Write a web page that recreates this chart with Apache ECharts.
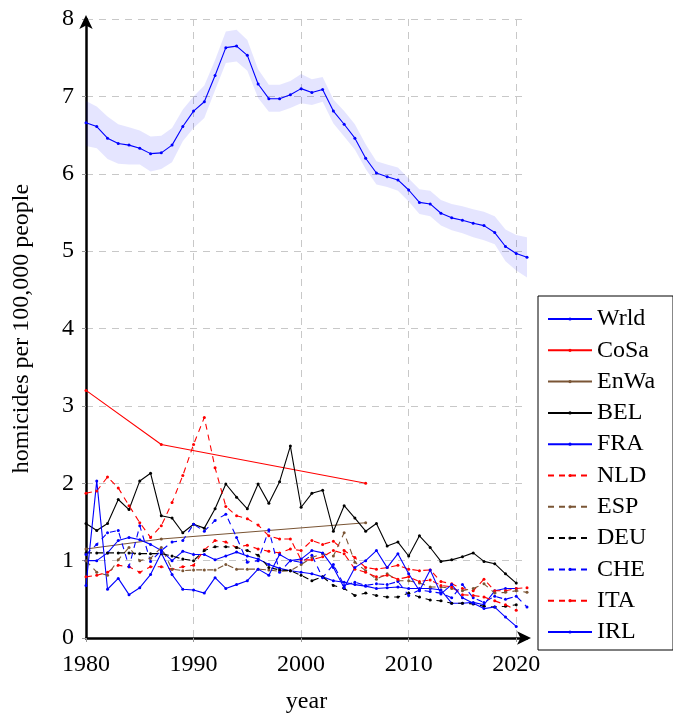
<!DOCTYPE html>
<html>
<head>
<meta charset="utf-8">
<script src="https://cdn.jsdelivr.net/npm/echarts@6/dist/echarts.min.js"></script>
<style>
html,body{margin:0;padding:0;background:#fff;}
#chart{width:673px;height:719px;}
</style>
</head>
<body>
<div id="chart"></div>
<script>
const years = [1980,1981,1982,1983,1984,1985,1986,1987,1988,1989,1990,1991,1992,1993,1994,1995,1996,1997,1998,1999,2000,2001,2002,2003,2004,2005,2006,2007,2008,2009,2010,2011,2012,2013,2014,2015,2016,2017,2018,2019,2020,2021];
const xTicks = [1980,1990,2000,2010,2020];
const yTicks = [0,1,2,3,4,5,6,7,8];

const wrld = [6.66,6.61,6.46,6.39,6.37,6.33,6.26,6.27,6.37,6.61,6.81,6.93,7.27,7.63,7.65,7.53,7.16,6.97,6.97,7.02,7.10,7.05,7.09,6.81,6.64,6.46,6.20,6.01,5.96,5.92,5.79,5.63,5.61,5.49,5.43,5.40,5.36,5.33,5.24,5.06,4.97,4.92];
const wrldUpper = [6.94,6.87,6.74,6.64,6.60,6.56,6.48,6.49,6.59,6.83,7.00,7.14,7.47,7.84,7.86,7.73,7.35,7.15,7.15,7.20,7.29,7.22,7.25,6.96,6.81,6.64,6.38,6.16,6.12,6.08,5.94,5.80,5.78,5.66,5.61,5.58,5.54,5.51,5.45,5.28,5.21,5.18];
const wrldLower = [6.36,6.33,6.19,6.13,6.12,6.12,6.03,6.06,6.15,6.42,6.59,6.72,7.08,7.43,7.45,7.33,6.98,6.80,6.80,6.85,6.91,6.89,6.93,6.65,6.48,6.31,6.06,5.86,5.83,5.78,5.64,5.48,5.45,5.33,5.27,5.23,5.18,5.14,5.09,4.87,4.75,4.66];

const cosaYears = [1980,1987,2006];
const cosa = [3.20,2.50,2.00];
const enwaYears = [1980,1987,2006];
const enwa = [1.15,1.28,1.49];

const bel = [1.48,1.39,1.48,1.79,1.66,2.03,2.13,1.58,1.55,1.36,1.47,1.42,1.67,1.99,1.82,1.67,1.99,1.74,2.02,2.48,1.69,1.87,1.91,1.38,1.71,1.55,1.38,1.48,1.19,1.24,1.06,1.32,1.17,0.99,1.01,1.05,1.10,0.99,0.96,0.83,0.71,null];
const fra = [1.00,1.00,1.10,1.26,1.30,1.27,1.21,1.13,1.00,1.12,1.08,1.08,1.01,1.06,1.11,1.06,1.02,0.95,0.90,0.87,0.85,0.83,0.79,0.74,0.72,0.69,0.67,0.64,0.65,0.66,0.64,0.64,0.64,0.62,0.45,0.45,0.46,0.43,0.61,0.64,0.64,null];
const nld = [0.79,0.81,0.85,0.94,0.92,0.85,0.92,0.92,0.89,0.92,0.94,1.14,1.26,1.24,1.17,1.20,1.15,1.12,1.10,1.15,1.13,1.26,1.21,1.25,1.13,1.04,0.91,0.89,0.91,0.94,0.89,0.87,0.88,0.73,0.70,0.64,0.61,0.76,0.61,0.61,0.64,0.65];
const esp = [1.00,0.85,0.81,1.01,1.17,1.00,1.03,1.17,0.89,0.87,0.88,0.88,0.88,0.95,0.89,0.89,0.89,0.88,0.86,0.87,0.95,1.04,1.09,1.06,1.36,0.98,0.87,0.76,0.83,0.74,0.74,0.71,0.66,0.66,0.64,0.61,0.64,0.70,0.58,0.59,0.61,0.59];
const deu = [1.10,1.10,1.10,1.10,1.10,1.09,1.09,1.09,1.06,1.02,1.00,1.13,1.18,1.18,1.17,1.13,1.07,0.91,0.88,0.87,0.81,0.74,0.79,0.68,0.64,0.55,0.58,0.55,0.53,0.53,0.58,0.53,0.49,0.48,0.45,0.45,0.44,0.41,0.40,0.41,0.43,null];
const che = [1.08,1.21,1.36,1.39,0.92,1.45,0.99,1.13,1.24,1.26,1.47,1.38,1.52,1.60,1.30,0.98,1.00,1.40,0.85,1.00,0.98,1.07,0.78,0.95,0.68,0.72,0.68,0.70,0.69,0.73,0.55,0.62,0.60,0.58,0.52,0.69,0.52,0.46,0.54,0.50,0.54,0.40];
const ita = [1.87,1.90,2.08,1.94,1.71,1.49,1.30,1.45,1.75,2.10,2.50,2.85,2.20,1.70,1.58,1.54,1.46,1.32,1.28,1.28,1.01,1.01,1.05,1.13,1.09,0.89,0.85,0.79,0.81,0.76,0.79,0.73,0.75,0.68,0.66,0.56,0.55,0.53,0.48,0.43,0.36,null];
const irl = [0.68,2.03,0.63,0.77,0.56,0.65,0.82,1.10,0.82,0.63,0.62,0.58,0.78,0.64,0.69,0.74,0.89,0.81,1.08,1.00,1.02,1.13,1.10,0.91,0.65,0.91,1.00,1.13,0.91,1.09,0.83,0.61,0.88,0.57,0.69,0.52,0.45,0.38,0.40,0.27,0.15,null];

const BLUE = '#0000ff', RED = '#ff0000', BLACK = '#000000', BROWN = '#7a5535';
const FONT = '"Liberation Serif", "DejaVu Serif", serif';

function pairs(xs, ys){ return xs.map((x,i)=>[x, ys[i]]); }

function lineSeries(name, xs, ys, color, dashed){
  return {
    name: name, type: 'line', data: pairs(xs, ys),
    symbol: 'circle', symbolSize: 3, showSymbol: true, connectNulls: false,
    itemStyle: {color: color},
    lineStyle: {color: color, width: 1.1, type: dashed ? [6,5] : 'solid'},
    emphasis: {disabled: true}, animation: false, z: 3
  };
}

const series = [
  {
    name: 'band', type: 'custom', silent: true, animation: false, z: 1,
    data: [[years[0], wrldLower[0]]],
    encode: {x: 0, y: 1},
    renderItem: function(params, api){
      const top = years.map((y,i)=>api.coord([y, wrldUpper[i]]));
      const bot = years.map((y,i)=>api.coord([y, wrldLower[i]])).reverse();
      return {type:'polygon', shape:{points: top.concat(bot)}, style:{fill:'rgba(0,0,255,0.1)', stroke:'none'}};
    }
  },
  lineSeries('Wrld', years, wrld, BLUE, false),
  lineSeries('CoSa', cosaYears, cosa, RED, false),
  lineSeries('EnWa', enwaYears, enwa, BROWN, false),
  lineSeries('BEL', years, bel, BLACK, false),
  lineSeries('FRA', years, fra, BLUE, false),
  lineSeries('NLD', years, nld, RED, true),
  lineSeries('ESP', years, esp, BROWN, true),
  lineSeries('DEU', years, deu, BLACK, true),
  lineSeries('CHE', years, che, BLUE, true),
  lineSeries('ITA', years, ita, RED, true),
  lineSeries('IRL', years, irl, BLUE, false)
];

const chart = echarts.init(document.getElementById('chart'), null, {renderer:'canvas'});
chart.setOption({
  animation: false,
  backgroundColor: '#ffffff',
  grid: {left: 86, right: 146, top: 19, bottom: 77, containLabel: false},
  xAxis: {
    type: 'value', min: xTicks[0], max: years[years.length-1], interval: 10,
    name: 'year', nameLocation: 'middle', nameGap: 52,
    nameTextStyle: {fontFamily: FONT, fontSize: 24, color: '#000'},
    axisLine: {show: true, onZero: false, lineStyle: {color: '#000', width: 2.5}, symbol: ['none','arrow'], symbolSize: [10,14], symbolOffset: [0, 4]},
    axisTick: {show: true, inside: false, length: 4, lineStyle: {color: '#999'}},
    axisLabel: {fontFamily: FONT, fontSize: 24, color: '#000', margin: 15, showMaxLabel: false,
      formatter: v => xTicks.includes(v) ? String(v) : ''},
    splitLine: {show: true, showMinLine: false, showMaxLine: false, lineStyle: {color: '#c8c8c8', width: 1, type: [7,6]}}
  },
  yAxis: {
    type: 'value', min: yTicks[0], max: yTicks[yTicks.length-1], interval: 1,
    name: 'homicides per 100,000 people', nameLocation: 'middle', nameGap: 52, nameRotate: 90,
    nameTextStyle: {fontFamily: FONT, fontSize: 24, color: '#000'},
    axisLine: {show: true, onZero: false, lineStyle: {color: '#000', width: 2.5}, symbol: ['none','arrow'], symbolSize: [10,14], symbolOffset: [0, 4]},
    axisTick: {show: true, length: 4, lineStyle: {color: '#999'}},
    axisLabel: {fontFamily: FONT, fontSize: 24, color: '#000', margin: 12},
    splitLine: {show: true, showMinLine: false, lineStyle: {color: '#c8c8c8', width: 1, type: [7,6]}}
  },
  legend: {
    data: ['Wrld','CoSa','EnWa','BEL','FRA','NLD','ESP','DEU','CHE','ITA','IRL'],
    orient: 'vertical', left: 538, top: 296,
    padding: [11, 18, 6, 9], itemGap: 7.3, itemWidth: 44, itemHeight: 4,
    borderColor: '#000', borderWidth: 1, backgroundColor: '#fff',
    textStyle: {fontFamily: FONT, fontSize: 24, color: '#000', lineHeight: 24},
    selectedMode: false
  },
  series: series
});
</script>
</body>
</html>
